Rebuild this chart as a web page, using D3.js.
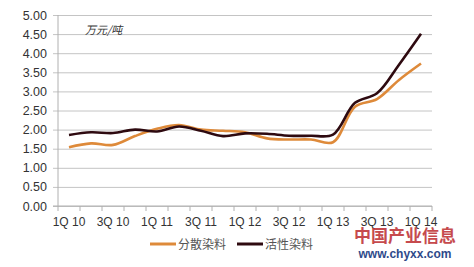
<!DOCTYPE html>
<html>
<head>
<meta charset="utf-8">
<script src="https://cdn.jsdelivr.net/npm/d3@7"></script>
<style>
  body { margin: 0; background: #fff; }
  svg { display: block; font-family: "Liberation Sans", Arial, sans-serif; }
</style>
</head>
<body>
<div id="graf"></div>
<script>
const quarters = ["1Q 10", "2Q 10", "3Q 10", "4Q 10", "1Q 11", "2Q 11", "3Q 11", "4Q 11",
  "1Q 12", "2Q 12", "3Q 12", "4Q 12", "1Q 13", "2Q 13", "3Q 13", "4Q 13", "1Q 14"]
const fensan = [1.54, 1.64, 1.60, 1.83, 2.02, 2.12, 2.00, 1.97, 1.93, 1.77, 1.74, 1.74, 1.67, 2.60, 2.80, 3.30, 3.73]
const huoxing = [1.86, 1.93, 1.91, 2.00, 1.95, 2.08, 1.97, 1.83, 1.90, 1.89, 1.84, 1.84, 1.87, 2.70, 2.95, 3.70, 4.51]
const yTicks = [0, 0.5, 1, 1.5, 2, 2.5, 3, 3.5, 4, 4.5, 5]
const xLabels = ["1Q 10", "3Q 10", "1Q 11", "3Q 11", "1Q 12", "3Q 12", "1Q 13", "3Q 13", "1Q 14"]
const seriesNames = ["分散染料", "活性染料"]
const colores = ["#DE8A3A", "#2E0A10"]

const anchoTotal = 474
const altoTotal = 267
const margins = { top: 15, right: 42, bottom: 61, left: 58 }
const ancho = anchoTotal - margins.left - margins.right
const alto = altoTotal - margins.top - margins.bottom

const svg = d3.select("#graf").append("svg")
  .attr("width", anchoTotal)
  .attr("height", altoTotal)

const g = svg.append("g")
  .attr("transform", `translate(${margins.left}, ${margins.top})`)

const x = d3.scaleBand().domain(quarters).range([0, ancho])
const y = d3.scaleLinear().domain([0, 5]).range([alto, 0])

// gridlines + y labels
const yAxis = g.append("g")
  .call(d3.axisLeft(y).tickValues(yTicks).tickFormat(d3.format(".2f"))
    .tickSize(-ancho - 5).tickPadding(9))
  .attr("transform", "translate(0,0)")
yAxis.select(".domain").remove()
yAxis.selectAll(".tick line").attr("stroke", "#c4c4c4").attr("x1", -5).attr("x2", ancho)
yAxis.selectAll("text").attr("font-size", 12.5).attr("fill", "#333").attr("dx", -2)

// y axis line
g.append("line").attr("x1", 0).attr("x2", 0).attr("y1", 0).attr("y2", alto)
  .attr("stroke", "#b0b0b0")

// x axis
const xa = g.append("g").attr("transform", `translate(0, ${alto})`)
xa.append("line").attr("x1", -5).attr("x2", ancho).attr("stroke", "#b0b0b0")
xa.selectAll(".tk").data(d3.range(quarters.length + 1)).enter().append("line")
  .attr("x1", (i) => i * x.step()).attr("x2", (i) => i * x.step())
  .attr("y1", 0).attr("y2", 5).attr("stroke", "#b0b0b0")
xa.selectAll(".lbl").data(xLabels).enter().append("text")
  .attr("x", (d) => x(d) + x.bandwidth() / 2)
  .attr("y", 20)
  .attr("text-anchor", "middle")
  .attr("font-size", 12)
  .attr("fill", "#333")
  .text((d) => d)

// unit
g.append("text").attr("x", 27).attr("y", 19)
  .attr("font-size", 11).attr("font-style", "italic").attr("fill", "#333")
  .attr("font-family", "Noto Sans CJK SC")
  .text("万元/吨")

const line = d3.line()
  .x((d, i) => x(quarters[i]) + x.bandwidth() / 2)
  .y((d) => y(d))
  .curve(d3.curveCatmullRom.alpha(0.5))

;[fensan, huoxing].forEach((serie, k) => {
  g.append("path").datum(serie)
    .attr("fill", "none")
    .attr("stroke", colores[k])
    .attr("stroke-width", 2.6)
    .attr("stroke-linejoin", "round")
    .attr("d", line)
})

// legend
const leg = svg.append("g")
const legX = [150, 237]
seriesNames.forEach((n, k) => {
  leg.append("line").attr("x1", legX[k]).attr("x2", legX[k] + 26)
    .attr("y1", 244).attr("y2", 244)
    .attr("stroke", colores[k]).attr("stroke-width", 3)
  leg.append("text").attr("x", legX[k] + 28).attr("y", 248.5)
    .attr("font-size", 12).attr("fill", "#555")
    .attr("font-family", "Noto Sans CJK SC")
    .text(n)
})

// watermark
svg.append("text").attr("x", 405).attr("y", 242)
  .attr("text-anchor", "middle").attr("font-size", 17).attr("font-weight", "bold")
  .attr("fill", "#C0373A").attr("font-family", "Noto Sans CJK SC")
  .attr("opacity", 0.9)
  .text("中国产业信息")
svg.append("text").attr("x", 405).attr("y", 258)
  .attr("text-anchor", "middle").attr("font-size", 12).attr("font-weight", "bold")
  .attr("fill", "#2E4A8A")
  .text("www.chyxx.com")
</script>
</body>
</html>
